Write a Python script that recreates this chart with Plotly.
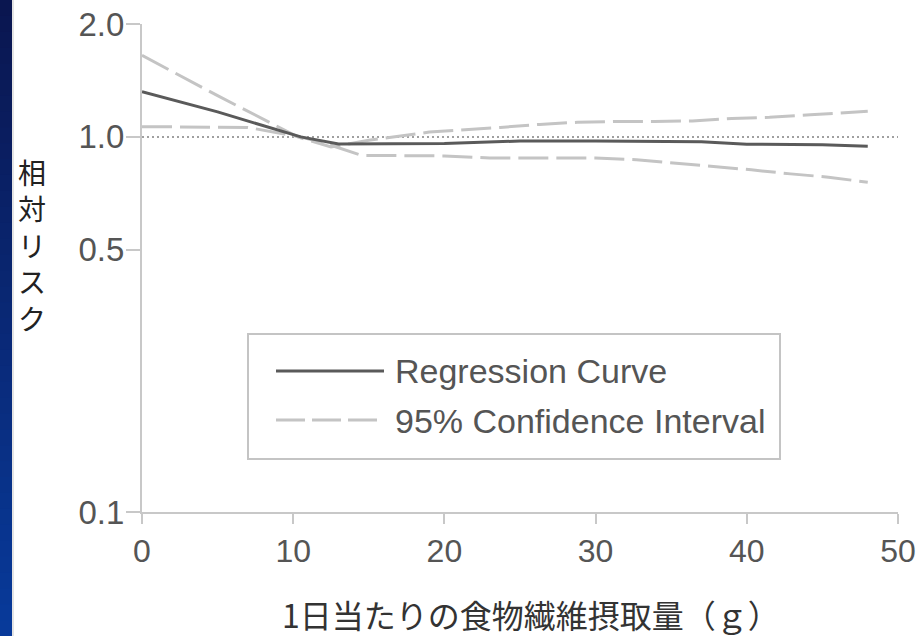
import math
import plotly.graph_objects as go

# ---------------- data ----------------
x_reg = [0, 5, 10.5, 13, 20, 25, 30, 37, 40, 45, 48]
y_reg = [1.32, 1.166, 1.0, 0.958, 0.96, 0.975, 0.975, 0.97, 0.956, 0.953, 0.945]

x_up = [0, 5, 10.3, 12.5, 15, 19, 23.7, 26.3, 28.8, 31.4, 33.9, 36.4, 39, 41.5, 44.2, 46.6, 48]
y_up = [1.65, 1.288, 1.0, 0.94, 0.98, 1.03, 1.06, 1.08, 1.094, 1.10, 1.10, 1.103, 1.12, 1.128, 1.146, 1.163, 1.17]

x_lo = [0, 7, 10.5, 12.5, 14.5, 20, 23, 30, 32.7, 35.3, 37.8, 40.3, 42.9, 45.4, 48]
y_lo = [1.065, 1.06, 1.0, 0.95, 0.893, 0.89, 0.879, 0.879, 0.869, 0.851, 0.836, 0.817, 0.797, 0.781, 0.757]

x_ref = [0, 50]
y_ref = [1.0, 1.0]

x_ticks = [0, 10, 20, 30, 40, 50]
y_ticks = [0.1, 0.5, 1.0, 2.0]
y_ticktext = ["0.1", "0.5", "1.0", "2.0"]

legend_labels = ["Regression Curve", "95% Confidence Interval"]
x_title = "1日当たりの食物繊維摂取量（ｇ）"
y_title_chars = ["相", "対", "リ", "ス", "ク"]

# ---------------- styles ----------------
W, H = 917, 636
L, R, T, B = 142, 19, 24, 124
PW, PH = W - L - R, H - T - B

def px2x(px):
    return (px - L) / PW

def py2y(py):
    return (H - B - py) / PH

SANS = "Liberation Sans, Arial, sans-serif"
CJK = "Noto Sans CJK JP, sans-serif"

fig = go.Figure()

fig.add_trace(go.Scatter(x=x_ref, y=y_ref, mode="lines",
                         line=dict(color="#a0a0a0", width=2, dash="2px,3px"),
                         showlegend=False, hoverinfo="skip"))
fig.add_trace(go.Scatter(x=x_up, y=y_up, mode="lines", name=legend_labels[1],
                         line=dict(color="#c4c4c4", width=3, dash="30px,8px"),
                         showlegend=False))
fig.add_trace(go.Scatter(x=x_lo, y=y_lo, mode="lines", name=legend_labels[1],
                         line=dict(color="#c4c4c4", width=3, dash="30px,8px"),
                         showlegend=False))
fig.add_trace(go.Scatter(x=x_reg, y=y_reg, mode="lines", name=legend_labels[0],
                         line=dict(color="#5a5a5a", width=3),
                         showlegend=False))

shapes = []
# left gradient strip
n = 40
top_c = (10, 22, 80)
bot_c = (8, 58, 154)
for i in range(n):
    t = i / (n - 1)
    c = tuple(int(round(top_c[k] + (bot_c[k] - top_c[k]) * t)) for k in range(3))
    y0 = py2y(H * i / n)
    y1 = py2y(H * (i + 1) / n + 1)
    shapes.append(dict(type="rect", xref="paper", yref="paper",
                       x0=px2x(0), x1=px2x(12), y0=y1, y1=y0,
                       line=dict(width=0), fillcolor="rgb(%d,%d,%d)" % c, layer="below"))
shapes.append(dict(type="rect", xref="paper", yref="paper",
                   x0=px2x(12), x1=px2x(14), y0=py2y(H), y1=py2y(0),
                   line=dict(width=0), fillcolor="#e4e4e4", layer="below"))

# legend box
shapes.append(dict(type="rect", xref="paper", yref="paper",
                   x0=px2x(248), x1=px2x(780), y0=py2y(459), y1=py2y(334),
                   line=dict(color="#c4c4c4", width=2), fillcolor="white"))
shapes.append(dict(type="line", xref="paper", yref="paper",
                   x0=px2x(276), x1=px2x(384), y0=py2y(371), y1=py2y(371),
                   line=dict(color="#5a5a5a", width=3)))
shapes.append(dict(type="line", xref="paper", yref="paper",
                   x0=px2x(276), x1=px2x(384), y0=py2y(420), y1=py2y(420),
                   line=dict(color="#c4c4c4", width=3, dash="29px,7px")))

annotations = [
    dict(text=legend_labels[0], xref="paper", yref="paper", x=px2x(393), y=py2y(371),
         xanchor="left", yanchor="middle", showarrow=False,
         font=dict(family=SANS, size=34, color="#555555")),
    dict(text=legend_labels[1], xref="paper", yref="paper", x=px2x(393), y=py2y(421),
         xanchor="left", yanchor="middle", showarrow=False,
         font=dict(family=SANS, size=34, color="#555555")),
    dict(text=x_title, xref="paper", yref="paper", x=px2x(531), y=py2y(614),
         xanchor="center", yanchor="middle", showarrow=False,
         font=dict(family=CJK, size=32, color="#333333")),
    dict(text="<br>".join(y_title_chars), xref="paper", yref="paper", x=px2x(32), y=py2y(245),
         xanchor="center", yanchor="middle", showarrow=False, align="center",
         font=dict(family=CJK, size=28, color="#222222")),
]

fig.update_layout(
    width=W, height=H,
    margin=dict(l=L, r=R, t=T, b=B),
    paper_bgcolor="white", plot_bgcolor="white",
    showlegend=False,
    shapes=shapes,
    annotations=annotations,
    xaxis=dict(range=[0, 50], tickvals=x_ticks, showgrid=False, zeroline=False,
               automargin=False,
               showline=True, linecolor="#c8c8c8", linewidth=2,
               ticks="outside", ticklen=10, tickwidth=2, tickcolor="#c8c8c8",
               tickfont=dict(family=SANS, size=32, color="#555555")),
    yaxis=dict(type="log", range=[-1, math.log10(2)], tickvals=y_ticks, ticktext=y_ticktext,
               showgrid=False, zeroline=False, automargin=False,
               showline=True, linecolor="#c8c8c8", linewidth=2,
               ticks="outside", ticklen=14, tickwidth=2, tickcolor="#c8c8c8",
               ticklabelstandoff=-5,
               tickfont=dict(family=SANS, size=33, color="#555555")),
)

fig.write_html("out.html")
